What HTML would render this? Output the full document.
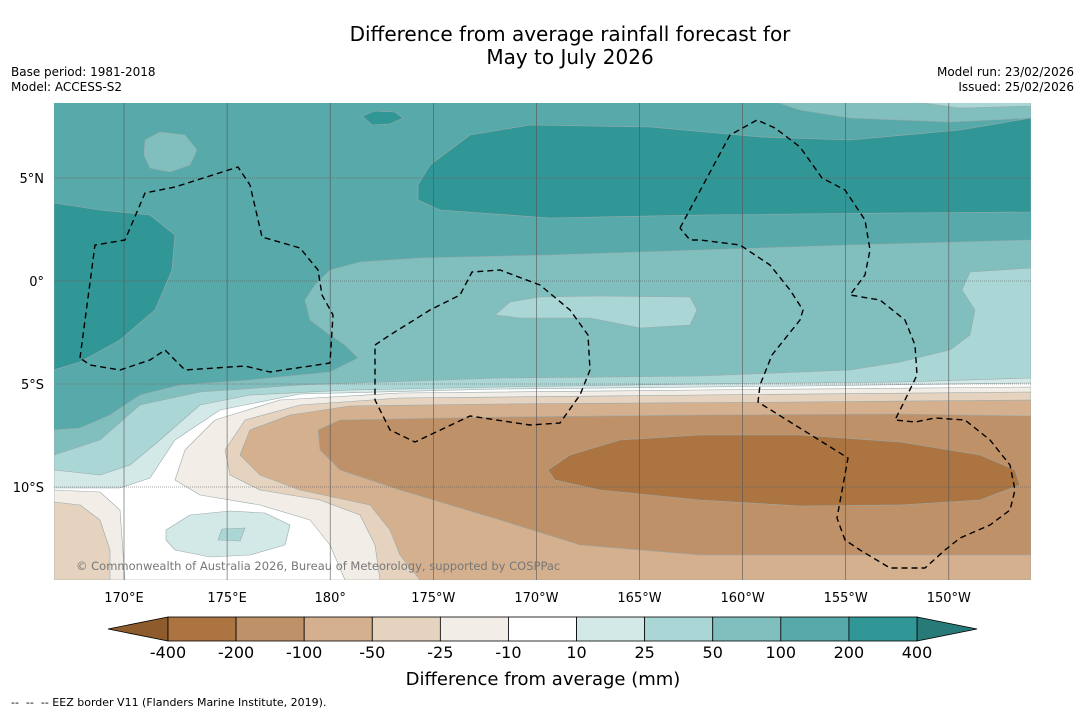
<!DOCTYPE html>
<html><head><meta charset="utf-8"><style>
body{margin:0;background:#fff;font-family:"Liberation Sans","DejaVu Sans",sans-serif}
svg{display:block}
</style></head><body>
<svg id="chart" width="1085" height="713" viewBox="0 0 1085 713">
<defs><clipPath id="mapclip"><rect x="54" y="103" width="977" height="477"/></clipPath></defs>
<text x="570" y="41" text-anchor="middle" font-size="20" font-family="DejaVu Sans, sans-serif">Difference from average rainfall forecast for</text>
<text x="570" y="64" text-anchor="middle" font-size="20" font-family="DejaVu Sans, sans-serif">May to July 2026</text>
<text x="11" y="76" font-size="12" font-family="DejaVu Sans, sans-serif">Base period: 1981-2018</text>
<text x="11" y="91" font-size="12" font-family="DejaVu Sans, sans-serif">Model: ACCESS-S2</text>
<text x="1074" y="76" text-anchor="end" font-size="12" font-family="DejaVu Sans, sans-serif">Model run: 23/02/2026</text>
<text x="1074" y="91" text-anchor="end" font-size="12" font-family="DejaVu Sans, sans-serif">Issued: 25/02/2026</text>
<g clip-path="url(#mapclip)" stroke="#9aa" stroke-width="0.6" stroke-linejoin="round">
<rect x="54" y="103" width="977" height="477" fill="#58a9a9" stroke="none"/>
<polygon fill="#80bfbe" points="770,100 1031,100 1031,118 950,122 850,118 800,110"/>
<polygon fill="#aad6d5" points="900,100 1031,100 1031,106 960,108"/>
<polygon fill="#80bfbe" points="145,140 160,132 185,135 197,150 190,165 170,172 150,168 144,155"/>
<polygon fill="#319796" points="362,116 375,111 395,112 403,118 390,124 372,125"/>
<polygon fill="#319796" points="418,185 430,165 470,135 530,125 650,127 760,137 850,140 960,130 1031,118 1031,212 900,213 700,215 550,218 440,210 418,200"/>
<polygon fill="#319796" points="54,203 100,210 150,215 175,235 172,270 155,310 120,340 80,362 54,370"/>
<polygon fill="#80bfbe" points="54,430 80,428 110,415 140,395 180,385 250,380 330,372 358,358 345,345 330,335 310,320 305,300 315,285 330,270 360,262 420,258 550,255 700,250 850,245 1031,240 1031,580 54,580"/>
<polygon fill="#aad6d5" points="1031,268 970,272 962,290 975,310 970,335 950,350 900,362 850,370 700,376 500,378 300,385 200,392 140,405 100,440 54,455 54,580 1031,580"/>
<polygon fill="#aad6d5" points="495,315 510,302 540,297 600,296 690,297 697,310 690,325 640,328 590,318 520,318"/>
<polygon fill="#d3e9e7" points="1031,378 900,382 700,384 500,387 350,390 250,395 200,405 160,440 130,465 100,475 54,470 54,580 1031,580"/>
<polygon fill="#ffffff" points="1031,383 800,386 500,389 300,394 220,410 175,440 150,478 120,488 54,488 54,580 1031,580"/>
<polygon fill="#f2ede6" points="1031,387 700,390 400,393 280,400 215,420 185,450 175,480 200,495 260,505 310,520 330,545 345,580 1031,580"/>
<polygon fill="#e5d2bf" points="1031,392 700,395 400,398 300,405 245,420 225,450 230,475 260,490 320,500 360,515 375,545 380,580 1031,580"/>
<polygon fill="#d4b08f" points="1031,400 800,402 500,404 350,406 290,415 250,430 240,455 260,475 300,490 370,505 390,530 400,555 420,580 1031,580"/>
<polygon fill="#bf9169" points="1031,416 900,414 700,415 500,417 340,420 318,430 320,450 340,470 400,490 500,520 580,545 700,555 850,555 1031,555"/>
<polygon fill="#ab7440" points="548,470 570,455 620,440 700,435 800,435 900,442 980,455 1015,470 1020,485 980,500 900,505 800,506 700,500 600,490 555,480"/>
<polygon fill="#f2ede6" points="54,490 100,492 120,510 125,580 54,580"/>
<polygon fill="#e5d2bf" points="54,502 80,505 100,520 110,550 110,580 54,580"/>
<polygon fill="#d3e9e7" points="166,530 190,515 230,511 265,513 290,525 285,545 250,555 210,557 175,550 166,540"/>
<polygon fill="#aad6d5" points="218,540 222,529 245,528 240,541"/>
<g id="grid" stroke="#555" stroke-width="0.6" fill="none"></g>
<g fill="none" stroke="#000" stroke-width="1.4" stroke-dasharray="6,4">
<polyline points="80,358 95,245 125,240 145,193 175,187 238,167 250,185 262,237 300,248 318,270 322,295 333,315 330,363 270,372 245,366 185,370 165,350 150,360 120,370 90,365 80,358"/>
<polyline points="375,345 390,335 430,310 460,295 472,272 500,270 540,285 570,310 588,335 590,370 580,395 560,423 530,425 470,416 415,442 390,430 375,400 375,345"/>
<polyline points="680,228 730,135 757,120 775,128 800,147 822,178 845,190 865,220 870,250 865,275 850,295 880,300 905,320 915,345 917,375 905,400 895,420 915,422 935,418 965,420 990,440 1010,465 1015,490 1010,510 990,525 960,538 945,550 925,568 890,568 860,550 845,540 837,518 848,458 758,402 760,385 772,355 800,320 803,310 790,290 770,265 740,245 700,240 690,240 680,228"/>
</g>
<text x="76" y="570" font-size="11.5" fill="#777" stroke="none" font-family="DejaVu Sans, sans-serif">© Commonwealth of Australia 2026, Bureau of Meteorology, supported by COSPPac</text>
</g>
<g id="axes" font-size="13" font-family="DejaVu Sans, sans-serif"></g>
<g id="cbar"></g>
<text x="543" y="685" text-anchor="middle" font-size="18" font-family="DejaVu Sans, sans-serif">Difference from average (mm)</text>
<text x="11" y="706" font-size="11" font-family="DejaVu Sans, sans-serif">--&#160;&#160;--&#160;&#160;-- EEZ border V11 (Flanders Marine Institute, 2019).</text>
</svg>
<script>
const lonTicks = [170, 175, 180, -175, -170, -165, -160, -155, -150];
const lonLabels = ["170°E","175°E","180°","175°W","170°W","165°W","160°W","155°W","150°W"];
const latTicks = [5, 0, -5, -10];
const latLabels = ["5°N","0°","5°S","10°S"];
const cbarLevels = ["-400","-200","-100","-50","-25","-10","10","25","50","100","200","400"];
const cbarColors = ["#ab7440","#bf9169","#d4b08f","#e5d2bf","#f2ede6","#ffffff","#d3e9e7","#aad6d5","#80bfbe","#58a9a9","#319796"];
(function(){
const NS = "http://www.w3.org/2000/svg";
function xLon(l){ const e = l < 0 ? 360 + l : l; return 124 + (e - 170) * 20.62; }
function yLat(v){ return 281 - v * 20.6; }
const grid = document.getElementById('grid'), axes = document.getElementById('axes');
lonTicks.forEach((l,i)=>{
  const x = xLon(l);
  const ln = document.createElementNS(NS,'line');
  ln.setAttribute('x1',x);ln.setAttribute('x2',x);ln.setAttribute('y1',103);ln.setAttribute('y2',580);
  
  
  grid.appendChild(ln);
  const t = document.createElementNS(NS,'text');
  t.setAttribute('x',x);t.setAttribute('y',602);t.setAttribute('text-anchor','middle');
  t.textContent = lonLabels[i];
  
  
  axes.appendChild(t);
});
latTicks.forEach((v,i)=>{
  const y = yLat(v);
  const ln = document.createElementNS(NS,'line');
  ln.setAttribute('x1',54);ln.setAttribute('x2',1031);ln.setAttribute('y1',y);ln.setAttribute('y2',y);
  ln.setAttribute('stroke-dasharray','1,1');
  
  
  grid.appendChild(ln);
  const t = document.createElementNS(NS,'text');
  t.setAttribute('x',44);t.setAttribute('y',y+5);t.setAttribute('text-anchor','end');
  t.textContent = latLabels[i];
  
  
  axes.appendChild(t);
});
const cb = document.getElementById('cbar');
const x0 = 168, x1 = 917, cbTop = 617, h = 24, w = (x1 - x0) / cbarColors.length;
const l = document.createElementNS(NS,'polygon');
l.setAttribute('points', `${x0},${cbTop} ${x0},${cbTop+h} 108,${cbTop+h/2}`);
l.setAttribute('fill','#8d5b2c');l.setAttribute('stroke','#000');l.setAttribute('stroke-width','0.8');


cb.appendChild(l);
const r = document.createElementNS(NS,'polygon');
r.setAttribute('points', `${x1},${cbTop} ${x1},${cbTop+h} 977,${cbTop+h/2}`);
r.setAttribute('fill','#287a78');r.setAttribute('stroke','#000');r.setAttribute('stroke-width','0.8');


cb.appendChild(r);
cbarColors.forEach((c,i)=>{
  const rc = document.createElementNS(NS,'rect');
  rc.setAttribute('x', x0 + i*w); rc.setAttribute('y', cbTop); rc.setAttribute('width', w); rc.setAttribute('height', h);
  rc.setAttribute('fill', c); rc.setAttribute('stroke','#000'); rc.setAttribute('stroke-width','0.8');
  
  
  cb.appendChild(rc);
});
cbarLevels.forEach((s,i)=>{
  const t = document.createElementNS(NS,'text');
  t.setAttribute('x', x0 + i*w); t.setAttribute('y', 658); t.setAttribute('text-anchor','middle');
  t.setAttribute('font-size','16'); t.setAttribute('font-family','DejaVu Sans, sans-serif');
  t.textContent = s;
  
  
  cb.appendChild(t);
});
})();
</script>
</body></html>
